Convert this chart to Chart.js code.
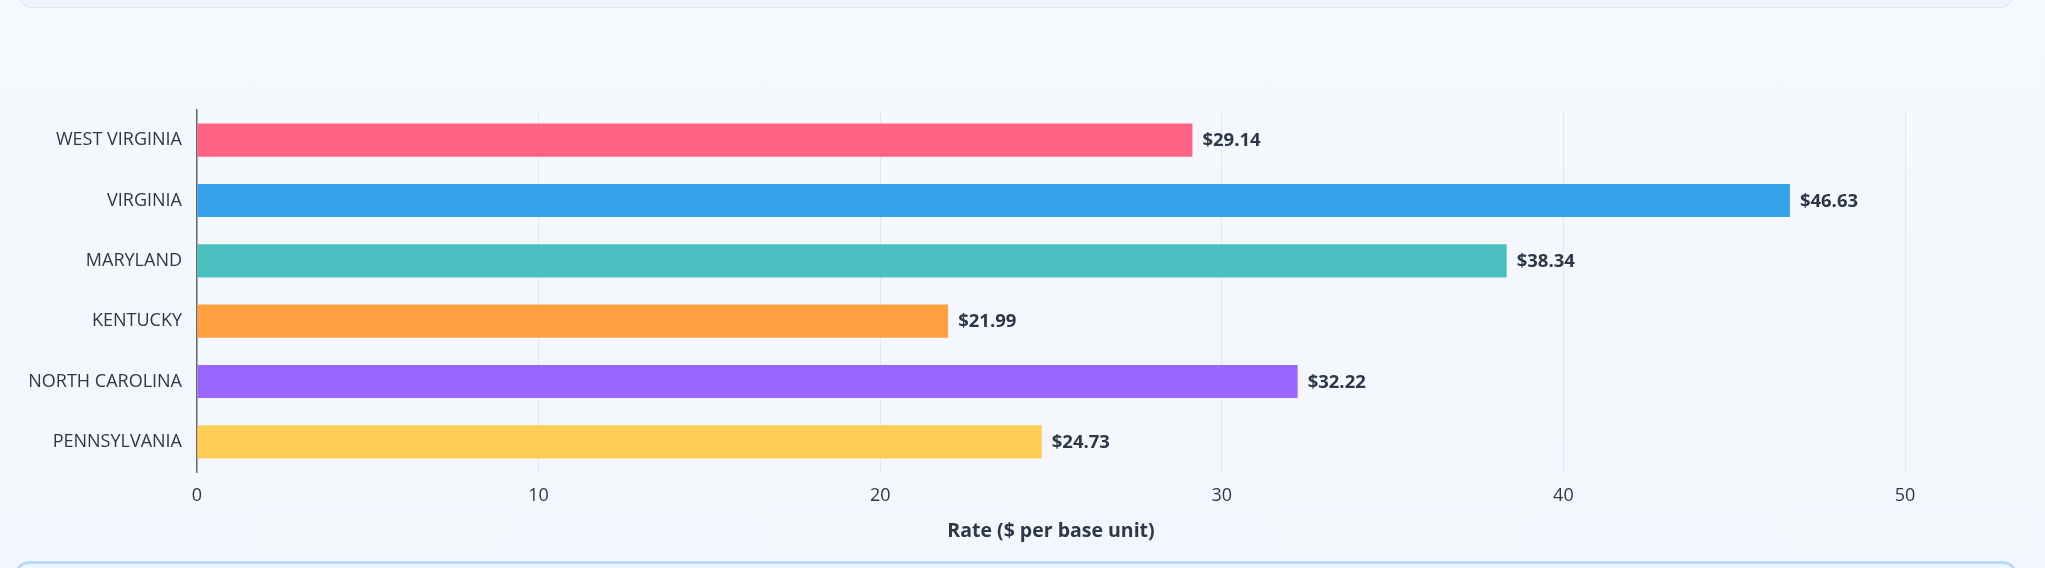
<!DOCTYPE html>
<html>
<head>
<meta charset="utf-8">
<script src="https://cdn.jsdelivr.net/npm/chart.js@4.4.0/dist/chart.umd.min.js"></script>
<style>
    html, body {
        margin: 0;
        padding: 0;
        width: 2045px;
        height: 568px;
        overflow: hidden;
        background: linear-gradient(180deg, #f5f8fd 0%, #f3f7fd 100%);
        font-family: "Segoe UI", "Open Sans", sans-serif;
    }
    .top-card {
        position: absolute;
        left: 18px;
        width: 1994px;
        top: -40px;
        height: 46px;
        border: 1px solid #dde7f4;
        border-radius: 14px;
        background: #f0f5fc;
    }
    .bottom-card {
        position: absolute;
        left: 15px;
        width: 1996px;
        top: 561px;
        height: 40px;
        border: 3px solid #b6dbf6;
        border-radius: 14px;
        background: #ecf5fd;
        z-index: 2;
    }
    .chart-wrap {
        position: absolute;
        left: 0;
        top: 0;
        width: 2045px;
        height: 568px;
    }
</style>
</head>
<body>
<div class="top-card"></div>
<div class="chart-wrap"><canvas id="rateChart"></canvas></div>
<div class="bottom-card"></div>
<script>
// chart data
const states = ['WEST VIRGINIA', 'VIRGINIA', 'MARYLAND', 'KENTUCKY', 'NORTH CAROLINA', 'PENNSYLVANIA'];
const rates = [29.14, 46.63, 38.34, 21.99, 32.22, 24.73];
const barColors = ['#FF6384', '#36A2EB', '#4BC0C0', '#FF9F40', '#9966FF', '#FFCD56'];
const axisTitle = 'Rate ($ per base unit)';

const FONT = '"Segoe UI", "Open Sans", sans-serif';
const TEXT = '#2d3748';

// draws "$xx.xx" just right of each bar
const valueLabels = {
    id: 'valueLabels',
    afterDatasetsDraw(chart) {
        const ctx = chart.ctx;
        const meta = chart.getDatasetMeta(0);
        ctx.save();
        ctx.font = 'bold 18.5px ' + FONT;
        ctx.fillStyle = TEXT;
        ctx.textAlign = 'left';
        ctx.textBaseline = 'middle';
        meta.data.forEach((bar, i) => {
            const v = chart.data.datasets[0].data[i];
            ctx.fillText('$' + v.toFixed(2), bar.x + 10, bar.y + 1);
        });
        ctx.restore();
    }
};

const ctx = document.getElementById('rateChart').getContext('2d');
new Chart(ctx, {
    type: 'bar',
    data: {
        labels: states,
        datasets: [{
            label: 'Rate',
            data: rates,
            backgroundColor: barColors,
            borderWidth: 0,
            barPercentage: 0.9,
            categoryPercentage: 0.61,
        }]
    },
    options: {
        indexAxis: 'y',
        responsive: true,
        maintainAspectRatio: false,
        animation: false,
        layout: { padding: { left: 0, right: 140, top: 110, bottom: 25 } },
        plugins: {
            legend: { display: false },
            tooltip: { enabled: false },
        },
        scales: {
            x: {
                beginAtZero: true,
                ticks: {
                    stepSize: 10,
                    padding: 13,
                    color: TEXT,
                    font: { family: FONT, size: 18 },
                },
                grid: { color: '#e3e8f0', lineWidth: 1, drawTicks: false },
                border: { display: false },
                title: {
                    display: true,
                    text: axisTitle,
                    color: TEXT,
                    font: { family: FONT, size: 19.5, weight: 'bold' },
                    padding: { top: 0, bottom: 0 },
                },
            },
            y: {
                ticks: {
                    padding: 15,
                    color: TEXT,
                    font: { family: FONT, size: 18 },
                },
                grid: { display: false, drawTicks: false },
                border: { display: true, color: '#6b6b6b', width: 1.5 },
                afterFit: (scale) => { scale.width = 197; },
            },
        },
    },
    plugins: [valueLabels],
});
</script>
</body>
</html>
